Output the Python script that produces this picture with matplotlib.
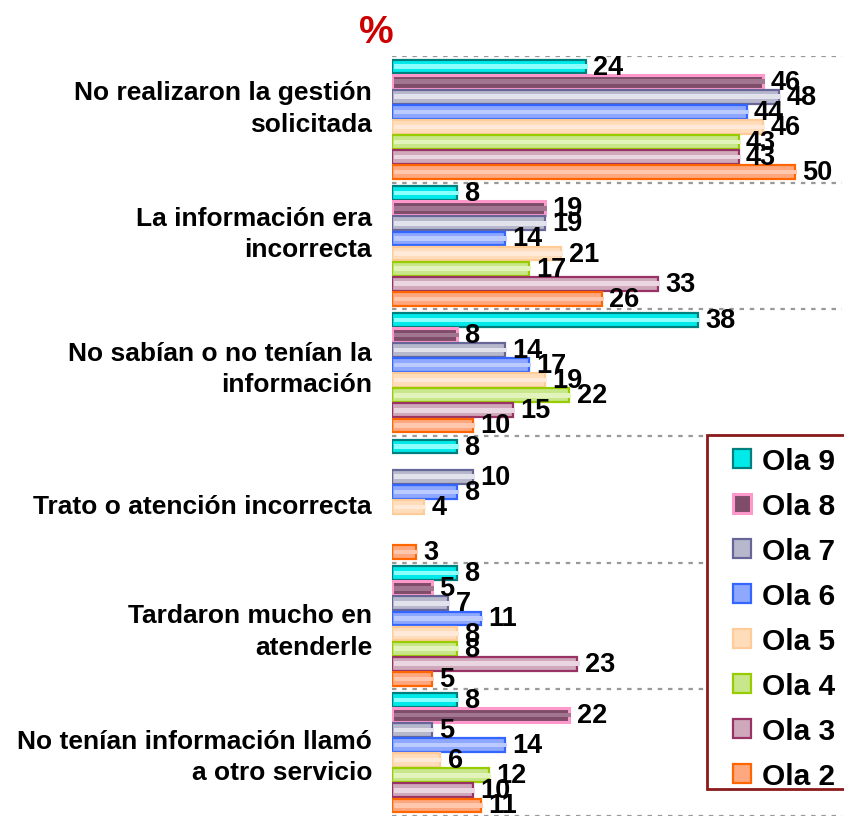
import numpy as np
import matplotlib
matplotlib.use("Agg")
import matplotlib.pyplot as plt
from matplotlib.patches import Rectangle
from matplotlib.transforms import blended_transform_factory

plt.rcParams['font.family'] = ['Liberation Sans', 'DejaVu Sans']

categories = [
    "No realizaron la gestión\nsolicitada",
    "La información era\nincorrecta",
    "No sabían o no tenían la\ninformación",
    "Trato o atención incorrecta",
    "Tardaron mucho en\natenderle",
    "No tenían información llamó\na otro servicio",
]
series = ["Ola 9", "Ola 8", "Ola 7", "Ola 6", "Ola 5", "Ola 4", "Ola 3", "Ola 2"]

ola9 = [24, 8, 38, 8, 8, 8]
ola8 = [46, 19, 8, np.nan, 5, 22]
ola7 = [48, 19, 14, 10, 7, 5]
ola6 = [44, 14, 17, 8, 11, 14]
ola5 = [46, 21, 19, 4, 8, 6]
ola4 = [43, 17, 22, np.nan, 8, 12]
ola3 = [43, 33, 15, np.nan, 23, 10]
ola2 = [50, 26, 10, 3, 5, 11]
values = [ola9, ola8, ola7, ola6, ola5, ola4, ola3, ola2]

# edge, face, centre highlight
styles = [
    ('#007F7F', '#00EAEA', '#8CFFFF'),
    ('#FF99CC', '#7F4D6A', '#A27590'),
    ('#666699', '#B8B8CC', '#E2E2EC'),
    ('#3366FF', '#8FA8FF', '#BCCBFF'),
    ('#FFCC99', '#FFDDBB', '#FFEADA'),
    ('#99CC00', '#C8E68A', '#E2F3BC'),
    ('#993366', '#CFA8BC', '#EAD6E0'),
    ('#FF6600', '#FFA880', '#FFC8AE'),
]

W, H = 844, 820
fig = plt.figure(figsize=(W / 100, H / 100), dpi=100)
ax = fig.add_axes([392 / W, 1 - 817 / H, (842 - 392) / W, (817 - 57) / H])

n = len(series)
slot = 1 / 8.4
ycat = np.arange(len(categories))
handles = []
for j, (name, vals, (ec, fc, hc)) in enumerate(zip(series, values, styles)):
    y = ycat + (j - (n - 1) / 2) * slot
    vals = np.array(vals, dtype=float)
    b = ax.barh(y, vals, height=slot * 0.92, color=fc, edgecolor=ec,
                linewidth=2.2 if j == 1 else 1.6, label=name, zorder=3)
    ax.barh(y, vals, height=slot * 0.3, color=hc, edgecolor='none',
            left=0.25, label='_nolegend_', zorder=4)
    handles.append(b)
    for yy, v in zip(y, vals):
        if np.isnan(v):
            continue
        ax.text(v + 0.9, yy, f"{v:.0f}", ha='left', va='center',
                fontsize=19.5, fontweight='bold', color='black', zorder=5)

# dashed separators between groups
for k in range(len(categories) + 1):
    ax.axhline(k - 0.5, color='#999999', linestyle=(0, (2, 2.6)),
               linewidth=1.6, zorder=1)

ax.set_xlim(0, 55.8)
ax.set_ylim(len(categories) - 0.5, -0.5)
ax.axis('off')

trans = blended_transform_factory(fig.transFigure, ax.transData)
label_shift = [-0.088, -0.10, -0.033, 0.054, 0.04, 0.03]
for i, cat in enumerate(categories):
    ax.text(372 / W, i + label_shift[i], cat, transform=trans, ha='right',
            va='center', fontsize=19, fontweight='bold', linespacing=1.4,
            multialignment='right')

fig.text(376 / W, 1 - 33 / H, "%", ha='center', va='center',
         fontsize=28, fontweight='bold', color='#CC0000')

# legend, with its box drawn separately so it can run off the right edge
ax.add_patch(Rectangle((707 / W, 1 - 790 / H), (860 - 707) / W,
                       (790 - 436) / H, transform=fig.transFigure,
                       facecolor='white', edgecolor='#8B1A1A',
                       linewidth=2, zorder=10, clip_on=False))
leg = ax.legend(handles=handles, loc='upper left',
                bbox_to_anchor=(733 / W, 1 - 448 / H),
                bbox_transform=fig.transFigure, frameon=False,
                prop={'size': 21.5, 'weight': 'bold'}, handlelength=0.6,
                handleheight=0.6, handletextpad=0.38, labelspacing=0.57,
                borderpad=0, borderaxespad=0)
leg.set_zorder(11)

fig.savefig("out.png", dpi=100)
